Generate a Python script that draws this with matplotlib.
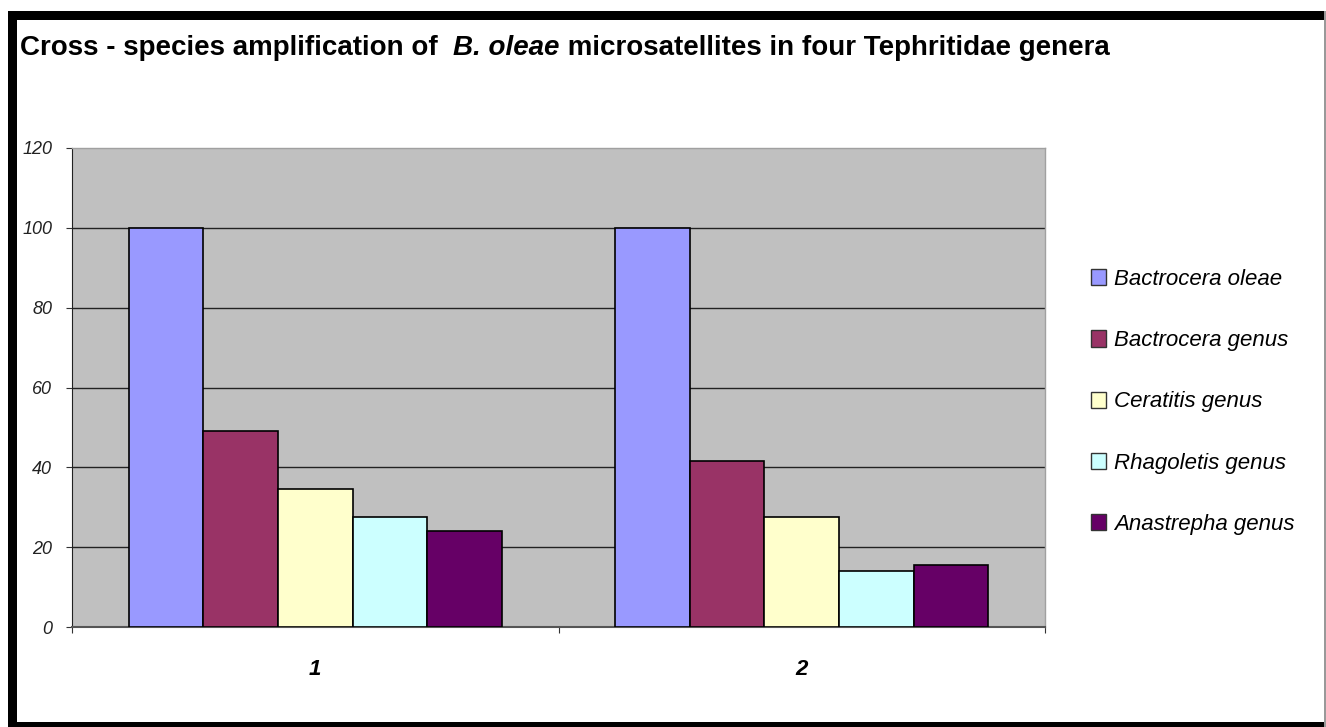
import numpy as np
import matplotlib.pyplot as plt
from matplotlib.patches import Rectangle, Patch

plt.rcParams['font.family'] = ['Liberation Sans', 'DejaVu Sans']

# data
groups = ['1', '2']
series = ['Bactrocera oleae', 'Bactrocera genus', 'Ceratitis genus',
          'Rhagoletis genus', 'Anastrepha genus']
values = {
    'Bactrocera oleae': [100, 100],
    'Bactrocera genus': [49, 41.5],
    'Ceratitis genus': [34.5, 27.5],
    'Rhagoletis genus': [27.5, 14],
    'Anastrepha genus': [24, 15.5],
}
colors = ['#9999FF', '#993366', '#FFFFCC', '#CCFFFF', '#660066']
y_ticks = [0, 20, 40, 60, 80, 100, 120]

W, H = 1326, 727
fig = plt.figure(figsize=(W / 100, H / 100), dpi=100)

# black frame round the whole chart
fig.patches.append(Rectangle((0, 0), 1, 1, transform=fig.transFigure,
                             facecolor='white', edgecolor='none', zorder=-5))
fig.patches.append(Rectangle((8 / W, 0), 9 / W, 1 - 11 / H, transform=fig.transFigure,
                             facecolor='black', edgecolor='none', zorder=-4))
fig.patches.append(Rectangle((8 / W, 1 - 20 / H), 1 - 8 / W, 9 / H, transform=fig.transFigure,
                             facecolor='black', edgecolor='none', zorder=-4))
fig.patches.append(Rectangle((8 / W, 0), 1 - 8 / W, 5 / H, transform=fig.transFigure,
                             facecolor='black', edgecolor='none', zorder=-4))
fig.patches.append(Rectangle((1 - 2 / W, 0), 2 / W, 1 - 11 / H, transform=fig.transFigure,
                             facecolor='#999999', edgecolor='none', zorder=-4))

ax = fig.add_axes([72 / W, 100 / H, 973 / W, 479 / H])
ax.set_facecolor('#C0C0C0')

x = np.arange(len(groups))
n = len(series)
bw = 0.767 / n
for i, (name, c) in enumerate(zip(series, colors)):
    ax.bar(x + (i - (n - 1) / 2) * bw, values[name], width=bw, color=c,
           edgecolor='black', linewidth=1.2, label=name, zorder=3)

ax.set_xlim(-0.5, len(groups) - 0.5)
ax.set_ylim(0, 120)
ax.set_yticks(y_ticks)
ax.set_yticklabels([str(t) for t in y_ticks], fontsize=13, style='italic', color='#222222')
for t in y_ticks[1:-1]:
    ax.axhline(t, color='#222222', linewidth=1, zorder=1)

# category labels centred, ticks on the boundaries
ax.set_xticks(np.arange(len(groups) + 1) - 0.5)
ax.set_xticklabels([])
ax.set_xticks(x, minor=True)
ax.set_xticklabels(groups, minor=True, fontsize=16, fontweight='bold', style='italic')
ax.tick_params(axis='x', which='minor', length=0, pad=23)
ax.tick_params(axis='x', which='major', length=4.3, color='#333333', direction='out')
ax.tick_params(axis='y', length=4.3, color='#333333', pad=10)

for s in ['top', 'right']:
    ax.spines[s].set_color('#A0A0A0')
    ax.spines[s].set_linewidth(1)
ax.spines['left'].set_color('#222222')
ax.spines['bottom'].set_color('#555555')
ax.spines['bottom'].set_linewidth(1.5)

handles = [Patch(facecolor=c, edgecolor='#333333', linewidth=1) for c in colors]
fig.legend(handles, series, loc='upper left', bbox_to_anchor=(1071 / W, 1 - 249 / H),
           frameon=False, prop={'size': 16, 'style': 'italic'},
           handlelength=0.68, handleheight=0.75, handletextpad=0.36, labelspacing=1.81)

# title in pieces so that the species name is italic
fig.canvas.draw()
renderer = fig.canvas.get_renderer()
pieces = [('Cross - species amplification of  ', 'normal'),
          ('B. oleae', 'italic'),
          (' microsatellites in four Tephritidae genera', 'normal')]
tx = 20 / W
for txt, st in pieces:
    t = fig.text(tx, 1 - 48 / H, txt, fontsize=20, fontweight='bold', style=st,
                 va='center', ha='left')
    bb = t.get_window_extent(renderer)
    tx += bb.width / W

fig.savefig('out.png', dpi=100)
